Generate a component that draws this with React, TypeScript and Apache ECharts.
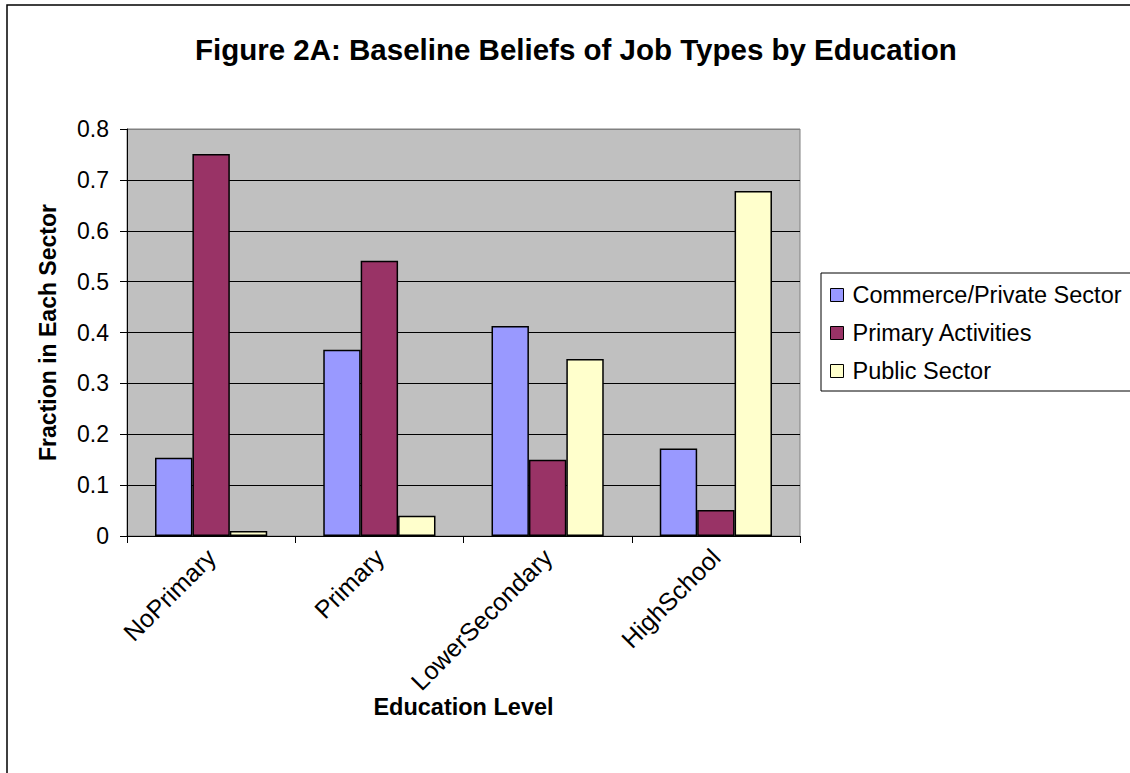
import React, { useEffect, useRef } from "react";
import * as echarts from "echarts";

const categories = ["NoPrimary", "Primary", "LowerSecondary", "HighSchool"];
const seriesNames = ["Commerce/Private Sector", "Primary Activities", "Public Sector"];
const commerceValues = [0.154, 0.366, 0.413, 0.172];
const primaryValues = [0.751, 0.541, 0.15, 0.051];
const publicValues = [0.01, 0.04, 0.348, 0.678];
const seriesColors = ["#9999FF", "#993366", "#FFFFCC"];
const yTicks = { min: 0, max: 0.8, interval: 0.1 };

const FONT = "'Liberation Sans', Arial, sans-serif";

export default function App() {
  const ref = useRef<HTMLDivElement>(null);
  useEffect(() => {
    if (!ref.current) return;
    const chart = echarts.init(ref.current, null, { renderer: "svg" });
    const valuesList = [commerceValues, primaryValues, publicValues];
    const splitColors = ["#000", "#000", "#000", "#000", "#000", "#000", "#000", "#000", "#808080"];
    chart.setOption({
      animation: false,
      backgroundColor: "#fff",
      textStyle: { fontFamily: FONT, color: "#000" },
      title: {
        text: "Figure 2A: Baseline Beliefs of Job Types by Education",
        left: 195,
        top: 34,
        padding: 0,
        textStyle: { fontFamily: FONT, fontSize: 29.5, fontWeight: "bold", color: "#000" },
      },
      graphic: [
        {
          type: "rect",
          shape: { x: 7, y: 5, width: 1300, height: 900 },
          style: { fill: "none", stroke: "#000", lineWidth: 1.5 },
          silent: true,
          z: -1,
        },
      ],
      legend: {
        orient: "vertical",
        left: 821,
        top: 273,
        padding: [9, 12, 7, 9],
        itemWidth: 13,
        itemHeight: 13,
        itemGap: 12,
        backgroundColor: "#fff",
        borderColor: "#000",
        borderWidth: 1,
        borderRadius: 0,
        icon: "rect",
        itemStyle: { borderColor: "#000", borderWidth: 1 },
        textStyle: { fontFamily: FONT, fontSize: 23.5, color: "#000", lineHeight: 26, padding: [0, 0, 0, 4] },
        data: seriesNames,
      },
      grid: {
        left: 127,
        top: 129,
        width: 673,
        height: 407,
        show: true,
        backgroundColor: "#C0C0C0",
        borderColor: "#808080",
        borderWidth: 1,
        containLabel: false,
      },
      xAxis: {
        type: "category",
        data: categories,
        name: "Education Level",
        nameLocation: "middle",
        nameGap: 159,
        nameMoveOverlap: false,
        nameTextStyle: { fontFamily: FONT, fontSize: 23.5, fontWeight: "bold", color: "#000" },
        axisLine: { lineStyle: { color: "#000", width: 1 } },
        axisTick: { show: true, length: 7, lineStyle: { color: "#000" } },
        axisLabel: { rotate: 45, fontFamily: FONT, fontSize: 25, color: "#000", margin: 17 },
        splitLine: { show: false },
      },
      yAxis: {
        type: "value",
        min: yTicks.min,
        max: yTicks.max,
        interval: yTicks.interval,
        name: "Fraction in Each Sector",
        nameLocation: "middle",
        nameGap: 68,
        nameMoveOverlap: false,
        nameTextStyle: { fontFamily: FONT, fontSize: 23, fontWeight: "bold", color: "#000" },
        axisLine: { show: true, lineStyle: { color: "#000", width: 1 } },
        axisTick: { show: true, length: 7, lineStyle: { color: "#000" } },
        axisLabel: { fontFamily: FONT, fontSize: 23, color: "#000", margin: 18 },
        splitLine: { show: true, lineStyle: { color: splitColors, width: 1 } },
      },
      series: seriesNames.map((name, i) => ({
        name,
        type: "bar",
        data: valuesList[i],
        barGap: "0%",
        barCategoryGap: "33.3%",
        itemStyle: { color: seriesColors[i], borderColor: "#000", borderWidth: 1.5 },
      })),
    });
    return () => chart.dispose();
  }, []);
  return (
    <div
      ref={ref}
      style={{ position: "absolute", left: 0, top: 0, width: 1130, height: 773 }}
    />
  );
}
